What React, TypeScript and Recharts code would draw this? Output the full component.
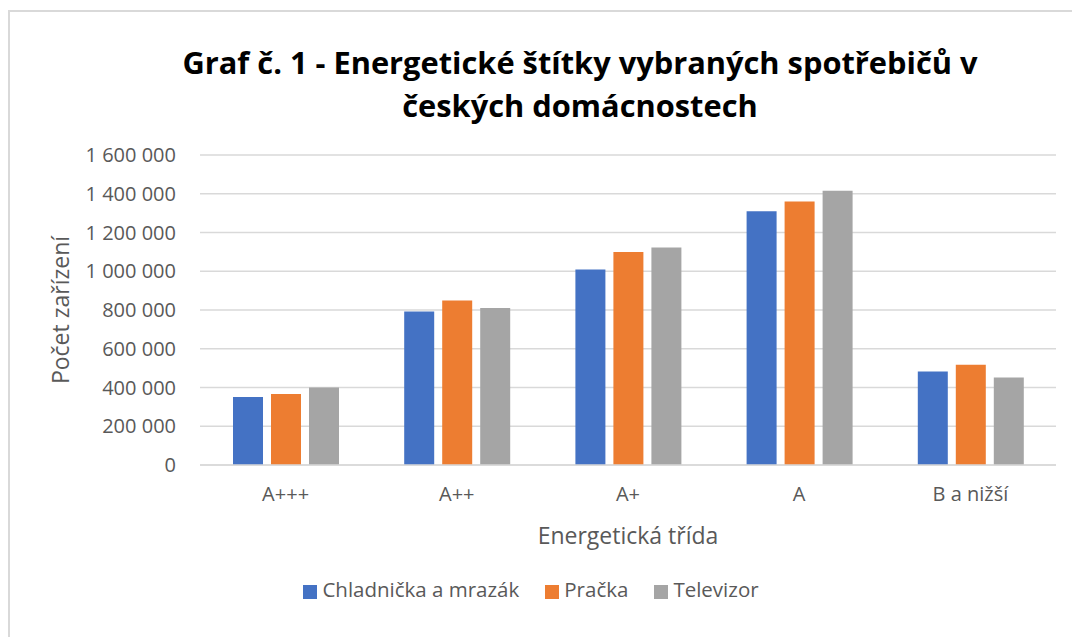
import React from "react";
import { BarChart, Bar, XAxis, YAxis, CartesianGrid, Legend } from "recharts";

const categories = ["A+++", "A++", "A+", "A", "B a nižší"];
const chladnicka = [351000, 792000, 1009000, 1310000, 482000];
const pracka = [366000, 849000, 1099000, 1360000, 517000];
const televizor = [400000, 810000, 1123000, 1415000, 451000];
const yTicks = [0, 200000, 400000, 600000, 800000, 1000000, 1200000, 1400000, 1600000];

const seriesNames = ["Chladnička a mrazák", "Pračka", "Televizor"];
const colors = ["#4472C4", "#ED7D31", "#A5A5A5"];

const data = categories.map((c, i) => ({
  name: c,
  s0: chladnicka[i],
  s1: pracka[i],
  s2: televizor[i],
}));

const FONT = "'Open Sans', sans-serif";
const TXT = "#595959";

const fmt = (v: number) => {
  const s = String(Math.round(v));
  return s.replace(/\B(?=(\d{3})+(?!\d))/g, " ");
};

export default function App() {
  return (
    <div style={{ position: "absolute", left: 0, top: 0, width: 1072, height: 637, background: "#fff", overflow: "hidden", fontFamily: FONT }}>
      <div style={{ position: "absolute", left: 8, top: 10, width: 1100, height: 700, borderTop: "2px solid #d9d9d9", borderLeft: "2px solid #d9d9d9" }} />
      <div style={{ position: "absolute", left: 80, width: 1000, top: 41, textAlign: "center", fontSize: 30.8, fontWeight: 700, color: "#000", lineHeight: "43px" }}>
        Graf č. 1 - Energetické štítky vybraných spotřebičů v<br />českých domácnostech
      </div>
      <div style={{ position: "absolute", left: 60, top: 310, transform: "translate(-50%, -50%) rotate(-90deg)", whiteSpace: "nowrap", fontSize: 23, color: TXT }}>
        Počet zařízení
      </div>
      <div style={{ position: "absolute", left: 628, top: 535, transform: "translate(-50%, -50%)", whiteSpace: "nowrap", fontSize: 23, color: TXT }}>
        Energetická třída
      </div>
      <div style={{ position: "absolute", left: 0, top: 0 }}>
        <BarChart
          width={1072}
          height={637}
          data={data}
          margin={{ top: 155, right: 16, bottom: 64, left: 90 }}
          barSize={30}
          barGap={8}
        >
          <CartesianGrid vertical={false} stroke="#d9d9d9" strokeWidth={1.3} />
          <XAxis
            dataKey="name"
            axisLine={{ stroke: "#d9d9d9", strokeWidth: 1.3 }}
            tickLine={false}
            tickSize={0}
            tickMargin={22}
            tick={{ fill: TXT, fontSize: 20, fontFamily: FONT }}
            height={80}
          />
          <YAxis
            domain={[0, 1600000]}
            ticks={yTicks}
            tickFormatter={fmt}
            axisLine={false}
            tickLine={false}
            tickSize={0}
            tickMargin={24}
            width={110}
            tick={{ fill: TXT, fontSize: 20, fontFamily: FONT }}
          />
          {seriesNames.map((n, i) => (
            <Bar key={n} dataKey={`s${i}`} name={n} fill={colors[i]} isAnimationActive={false} />
          ))}
          <Legend
            iconType="square"
            iconSize={14}
            wrapperStyle={{ position: "absolute", left: 0, width: 1072, top: 575, textAlign: "center", fontSize: 20.5, fontFamily: FONT }}
            formatter={(v: string, _e: any, i: number) => (
              <span style={{ color: TXT, marginRight: i < seriesNames.length - 1 ? 16 : 0, marginLeft: 1 }}>{v}</span>
            )}
          />
        </BarChart>
      </div>
    </div>
  );
}
